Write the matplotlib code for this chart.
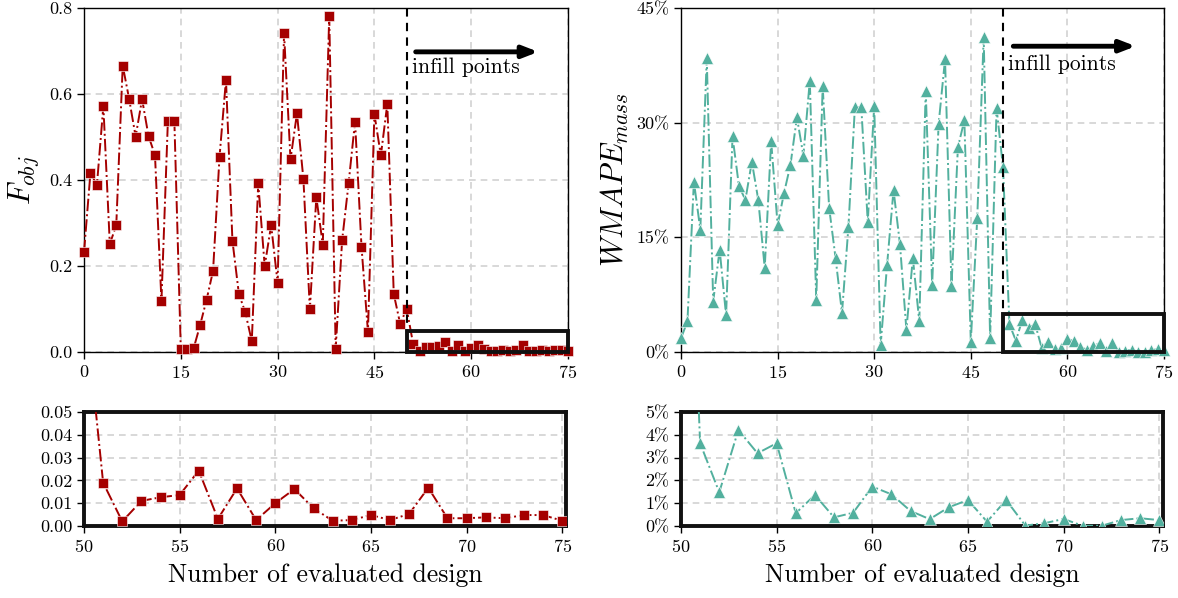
import numpy as np
import matplotlib
matplotlib.use("Agg")
import matplotlib.pyplot as plt
from matplotlib.patches import Rectangle
from matplotlib.ticker import FuncFormatter, FixedLocator

plt.rcParams["font.family"] = "serif"
plt.rcParams["font.serif"] = ["cmr10", "DejaVu Serif"]
plt.rcParams["mathtext.fontset"] = "cm"
plt.rcParams["axes.formatter.use_mathtext"] = True

# ---------------- data ----------------
designs = np.arange(76)
f_obj = [0.232, 0.417, 0.388, 0.572, 0.251, 0.295, 0.666, 0.588, 0.501, 0.588,
         0.502, 0.458, 0.119, 0.538, 0.538, 0.007, 0.006, 0.009, 0.063, 0.122,
         0.189, 0.454, 0.633, 0.259, 0.135, 0.092, 0.025, 0.392, 0.200, 0.295,
         0.161, 0.741, 0.448, 0.555, 0.402, 0.099, 0.360, 0.250, 0.781, 0.008,
         0.260, 0.392, 0.536, 0.245, 0.047, 0.553, 0.457, 0.577, 0.135, 0.065,
         0.101,
         0.019, 0.002, 0.011, 0.0126, 0.0136, 0.0243, 0.0031, 0.0165, 0.0026, 0.010,
         0.0162, 0.0078, 0.0023, 0.0026, 0.0048, 0.0026, 0.0053, 0.0168, 0.0034, 0.0034,
         0.0038, 0.0034, 0.0048, 0.0048, 0.0023]
wmape_mass = [1.8, 4.0, 22.3, 16.0, 38.4, 6.6, 13.4, 4.8, 28.2, 21.7,
              19.9, 24.9, 19.9, 11.0, 27.6, 16.6, 20.8, 24.5, 30.7, 25.7,
              35.5, 6.8, 34.8, 18.9, 12.3, 5.1, 16.4, 32.0, 32.0, 17.0,
              32.2, 0.9, 11.4, 21.2, 14.1, 2.9, 12.3, 4.0, 34.2, 8.8,
              29.8, 38.3, 8.6, 26.8, 30.3, 1.35, 17.5, 41.2, 1.8, 31.9,
              24.2,
              3.63, 1.48, 4.21, 3.19, 3.63, 0.56, 1.36, 0.38, 0.58, 1.73,
              1.39, 0.66, 0.30, 0.82, 1.14, 0.19, 1.14, 0.02, 0.12, 0.31,
              0.01, 0.01, 0.26, 0.34, 0.26]

top_xticks = [0, 15, 30, 45, 60, 75]
bot_xticks = [50, 55, 60, 65, 70, 75]
f_yticks = [0.0, 0.2, 0.4, 0.6, 0.8]
f_zoom_yticks = [0.00, 0.01, 0.02, 0.03, 0.04, 0.05]
w_yticks = [0, 15, 30, 45]
w_zoom_yticks = [0, 1, 2, 3, 4, 5]
n_initial = 50

red = "#a50000"
teal = "#52b09e"
gridc = "#d2d2d2"

W, H = 1178, 598
fig = plt.figure(figsize=(W / 100, H / 100), dpi=100)


def ax_at(l, t, r, b):
    return fig.add_axes([l / W, 1 - b / H, (r - l) / W, (b - t) / H])


axA = ax_at(84, 8, 568, 352)
axB = ax_at(681, 8, 1164, 352)
axC = ax_at(84, 412, 566, 526)
axD = ax_at(681, 412, 1163, 526)

TICK_FS = 13
LABEL_FS = 18.5
YLAB_FS = 22
NOTE_FS = 15.5


def style(ax):
    ax.grid(True, color=gridc, linestyle=(0, (4, 3)), linewidth=1.2, zorder=0)
    ax.set_axisbelow(True)
    ax.tick_params(direction="out", length=5, width=1, labelsize=TICK_FS,
                   top=False, right=False)


pct = FuncFormatter(lambda v, p: f"{v:.0f}%")

# top-left
axA.plot(designs, f_obj, color=red, linestyle="-.", linewidth=1.4, marker="s",
         markersize=7, markeredgecolor="white", markeredgewidth=0.4,
         clip_on=False, zorder=3)
axA.set_xlim(0, 75)
axA.set_ylim(0, 0.8)
axA.xaxis.set_major_locator(FixedLocator(top_xticks))
axA.yaxis.set_major_locator(FixedLocator(f_yticks))
axA.yaxis.set_major_formatter(FuncFormatter(lambda v, p: f"{v:.1f}"))
axA.set_ylabel(r"$F_{obj}$", fontsize=YLAB_FS, labelpad=6)
style(axA)
axA.axvline(n_initial, color="black", linestyle=(0, (4, 3)), linewidth=1.5, zorder=4)
axA.add_patch(Rectangle((50, 0), 25, 0.05, fill=False, edgecolor="#111111",
                        linewidth=2.8, zorder=5, clip_on=False))
axA.annotate("", xy=(70.4, 0.698), xytext=(51.4, 0.698),
             arrowprops=dict(arrowstyle="-|>,head_length=0.9,head_width=0.35",
                             color="black", lw=3.5, shrinkA=0, shrinkB=0))
axA.text(50.8, 0.662, "infill points", fontsize=NOTE_FS, ha="left", va="center")

# top-right
axB.plot(designs, wmape_mass, color=teal, linestyle="-.", linewidth=1.4, marker="^",
         markersize=8, markeredgecolor="white", markeredgewidth=0.4,
         clip_on=False, zorder=3)
axB.set_xlim(0, 75)
axB.set_ylim(0, 45)
axB.xaxis.set_major_locator(FixedLocator(top_xticks))
axB.yaxis.set_major_locator(FixedLocator(w_yticks))
axB.yaxis.set_major_formatter(pct)
axB.set_ylabel(r"$WMAPE_{mass}$", fontsize=YLAB_FS, labelpad=4)
style(axB)
axB.axvline(n_initial, color="black", linestyle=(0, (4, 3)), linewidth=1.5, zorder=4)
axB.add_patch(Rectangle((50, 0), 25, 5, fill=False, edgecolor="#111111",
                        linewidth=2.8, zorder=5, clip_on=False))
axB.annotate("", xy=(70.6, 40.0), xytext=(51.6, 40.0),
             arrowprops=dict(arrowstyle="-|>,head_length=0.9,head_width=0.35",
                             color="black", lw=3.5, shrinkA=0, shrinkB=0))
axB.text(50.8, 37.6, "infill points", fontsize=NOTE_FS, ha="left", va="center")

# bottom-left zoom
axC.plot(designs, f_obj, color=red, linestyle="-.", linewidth=1.4, marker="s",
         markersize=7, markeredgecolor="white", markeredgewidth=0.4, zorder=3)
axC.set_xlim(50, 75.2)
axC.set_ylim(0, 0.05)
axC.xaxis.set_major_locator(FixedLocator(bot_xticks))
axC.yaxis.set_major_locator(FixedLocator(f_zoom_yticks))
axC.yaxis.set_major_formatter(FuncFormatter(lambda v, p: f"{v:.2f}"))
axC.set_xlabel("Number of evaluated design", fontsize=LABEL_FS, labelpad=6)
style(axC)

# bottom-right zoom
axD.plot(designs, wmape_mass, color=teal, linestyle="-.", linewidth=1.4, marker="^",
         markersize=8, markeredgecolor="white", markeredgewidth=0.4, zorder=3)
axD.set_xlim(50, 75.2)
axD.set_ylim(0, 5)
axD.xaxis.set_major_locator(FixedLocator(bot_xticks))
axD.yaxis.set_major_locator(FixedLocator(w_zoom_yticks))
axD.yaxis.set_major_formatter(pct)
axD.set_xlabel("Number of evaluated design", fontsize=LABEL_FS, labelpad=6)
style(axD)

for ax in (axC, axD):
    for s in ax.spines.values():
        s.set_linewidth(2.8)
        s.set_color("#111111")
for ax in (axA, axB):
    for s in ax.spines.values():
        s.set_linewidth(1.0)

fig.savefig("out.png", dpi=100)
